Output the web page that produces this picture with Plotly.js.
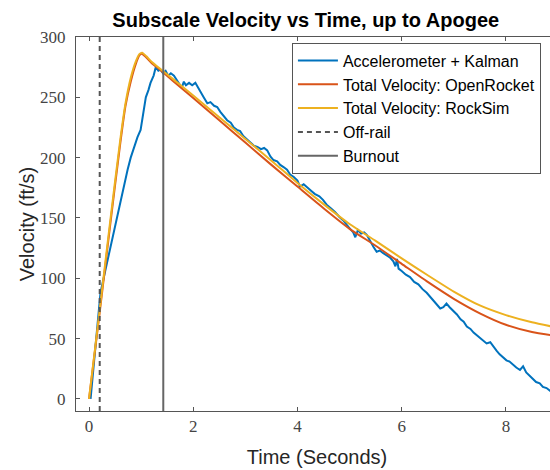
<!DOCTYPE html>
<html>
<head>
<meta charset="utf-8">
<script src="https://cdn.plot.ly/plotly-3.0.1.min.js"></script>
<style>html,body{margin:0;padding:0;overflow:hidden;background:#fff;}</style>
</head>
<body>
<div id="chart"></div>
<script>
// Accelerometer + Kalman
const accelTime = [0.03,0.08,0.13,0.18,0.22,0.30,0.38,0.48,0.55,0.61,0.68,0.74,0.80,0.87,0.93,0.99,1.04,1.09,1.14,1.18,1.24,1.28,1.33,1.37,1.42,1.47,1.52,1.57,1.63,1.69,1.74,1.78,1.82,1.86,1.92,1.98,2.04,2.09,2.14,2.20,2.27,2.33,2.40,2.46,2.52,2.59,2.65,2.72,2.78,2.84,2.90,2.96,3.03,3.10,3.16,3.23,3.30,3.36,3.42,3.48,3.54,3.61,3.67,3.74,3.80,3.86,3.93,4.00,4.05,4.12,4.18,4.25,4.33,4.42,4.49,4.56,4.64,4.72,4.80,4.88,4.95,5.02,5.07,5.11,5.16,5.22,5.28,5.33,5.40,5.46,5.52,5.58,5.64,5.72,5.78,5.84,5.88,5.91,5.94,6.00,6.08,6.16,6.24,6.32,6.40,6.48,6.56,6.63,6.70,6.74,6.80,6.86,6.92,6.99,7.06,7.13,7.19,7.25,7.32,7.38,7.44,7.50,7.56,7.63,7.70,7.76,7.82,7.88,7.95,8.01,8.07,8.14,8.20,8.27,8.33,8.39,8.46,8.52,8.58,8.65,8.71,8.78,8.84,8.90,9.00];
const accelVel = [0,25,50,72,88,104,120,140,152,165,178,190,200,210,217,223,238,250,256,262,268,275,272,273,270,272,268,270,268,264,261,258,263,260,262,260,262,258,254,250,245,246,243,242,238,234,231,229,225,223,222,218,215,212,210,209,207,208,206,201,198,197,194,192,190,186,184,181,176,178,176,173,170,168,165,161,158,155,151,148,144,140,138,134,140,137,138,136,130,126,122,123,121,119,117,114,110,116,108,106,103,101,97,95,91,88,84,80,77,75,76,79,76,73,70,66,64,60,58,55,53,51,49,46,47,43,40,37,34,32,31,28,26,24,27,22,19,16,14,13,10,9,7,5,3];

// Total Velocity: OpenRocket
const orTime = [0,0.2,0.4,0.6,0.7,0.8,0.9,0.97,1.02,1.1,1.2,1.4,1.6,2.0,2.5,3.0,3.5,4.0,4.5,5.0,5.5,6.0,6.5,7.0,7.5,8.0,8.5,9.0];
const orVel  = [0,70,142,212,243,263,278,285,286,283,278.5,271.5,264,249.5,231,212.5,194,176,158,141,127,112,97,83,71,61.5,55.5,52];

// Total Velocity: RockSim
const rsTime = [0,0.2,0.4,0.6,0.7,0.8,0.9,0.97,1.02,1.1,1.2,1.4,1.6,2.0,2.5,3.0,3.5,4.0,4.5,5.0,5.5,6.0,6.5,7.0,7.5,8.0,8.5,9.0];
const rsVel  = [0,72,145,215,245,266,280,286,287,284,279.5,272.5,265.5,251.5,233.5,215.5,197.5,179,161.5,145,131,116.5,102.5,89,77.5,69.5,63.5,59];

// Events
const offRailTime = [0.205];
const burnoutTime = [1.425];
const yLimits = [-10, 300];

const xTicks = [0,2,4,6,8];
const yTicks = [0,50,100,150,200,250,300];

const traces = [
  {x: accelTime, y: accelVel, name: 'Accelerometer + Kalman', mode: 'lines',
   line: {color: '#0072BD', width: 2}},
  {x: orTime, y: orVel, name: 'Total Velocity: OpenRocket', mode: 'lines',
   line: {color: '#D95319', width: 2, shape: 'spline', smoothing: 0.6}},
  {x: rsTime, y: rsVel, name: 'Total Velocity: RockSim', mode: 'lines',
   line: {color: '#EDB120', width: 2, shape: 'spline', smoothing: 0.6}},
  {x: [offRailTime[0], offRailTime[0]], y: yLimits, name: 'Off-rail', mode: 'lines',
   line: {color: '#555555', width: 2, dash: '5px,4px'}},
  {x: [burnoutTime[0], burnoutTime[0]], y: yLimits, name: 'Burnout', mode: 'lines',
   line: {color: '#666666', width: 2}}
];

const layout = {
  width: 560, height: 470,
  margin: {l: 76, r: 2, t: 37, b: 59},
  paper_bgcolor: '#ffffff', plot_bgcolor: '#ffffff',
  showlegend: true,
  title: {text: 'Subscale Velocity vs Time, up to Apogee',
    font: {family: 'Liberation Sans, Arial, sans-serif', size: 20, color: '#000000', weight: 'bold'},
    x: 0.546, xref: 'container', xanchor: 'center',
    y: 1 - 20/470, yref: 'container', yanchor: 'middle'},
  xaxis: {
    range: [-0.25, 9], tickvals: xTicks, ticktext: xTicks.map(String),
    ticks: 'inside', ticklen: 4, tickcolor: '#555', tickwidth: 1,
    showline: true, linecolor: '#555', linewidth: 1, mirror: 'ticks',
    showgrid: false, zeroline: false,
    tickfont: {family: 'Liberation Serif, Times New Roman, serif', size: 17, color: '#444'},
    ticklabelstandoff: 0,
    title: {text: 'Time (Seconds)', font: {family: 'Liberation Sans, Arial, sans-serif', size: 20, color: '#262626'}, standoff: 14},
    automargin: false
  },
  yaxis: {
    range: yLimits, tickvals: yTicks, ticktext: yTicks.map(String),
    ticks: 'inside', ticklen: 4, tickcolor: '#555', tickwidth: 1,
    showline: true, linecolor: '#555', linewidth: 1, mirror: 'ticks',
    showgrid: false, zeroline: false,
    tickfont: {family: 'Liberation Serif, Times New Roman, serif', size: 17, color: '#444'},
    ticklabelstandoff: 6,
    title: {text: 'Velocity (ft/s)', font: {family: 'Liberation Sans, Arial, sans-serif', size: 20, color: '#262626'}, standoff: 0},
    automargin: false
  },
  legend: {
    x: 0.448, xanchor: 'left', y: 0.985, yanchor: 'top',
    bgcolor: '#ffffff', bordercolor: '#555', borderwidth: 1,
    font: {family: 'Liberation Sans, Arial, sans-serif', size: 16, color: '#000'},
    itemwidth: 40, tracegroupgap: 0
  }
};

Plotly.newPlot('chart', traces, layout, {displayModeBar: false, staticPlot: true});
</script>
</body>
</html>
